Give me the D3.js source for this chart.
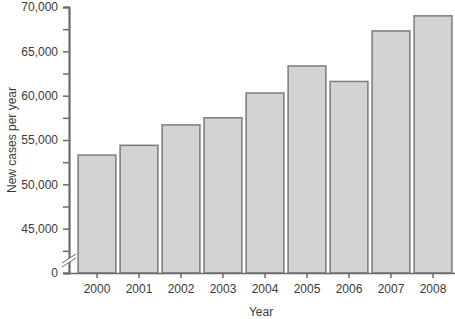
<!DOCTYPE html>
<html>
<head>
<meta charset="utf-8">
<script src="https://cdn.jsdelivr.net/npm/d3@7"></script>
<style>
  body { margin: 0; background: #fff; }
  text { font-family: "Liberation Sans", Arial, sans-serif; fill: #3a3a3a; }
</style>
</head>
<body>
<script>
var years = ["2000", "2001", "2002", "2003", "2004", "2005", "2006", "2007", "2008"];
var cases = [53300, 54400, 56700, 57500, 60300, 63350, 61600, 67300, 69000];
var yTicks = [45000, 50000, 55000, 60000, 65000, 70000];
var yMinor = [42500, 47500, 52500, 57500, 62500, 67500];

var width = 455, height = 319;
var base = 273; // baseline, shown as "0" (axis is broken)

var svg = d3.select("body").append("svg")
    .attr("width", width)
    .attr("height", height);

var x = d3.scaleBand()
    .domain(years)
    .range([76, 454])
    .paddingInner(0.1)
    .paddingOuter(0.05);

// 40,000 sits at the baseline, labelled 0 because of the axis break
var y = d3.scaleLinear()
    .domain([40000, 70000])
    .range([base, 7]);

var axisColor = "#6a6a6a";

// bars
svg.selectAll(".bar")
    .data(cases)
    .enter()
    .append("rect")
    .attr("class", "bar")
    .attr("x", function(d, i) { return x(years[i]); })
    .attr("y", function(d) { return y(d); })
    .attr("width", x.bandwidth())
    .attr("height", function(d) { return base - y(d); })
    .style("fill", "#d3d3d4")
    .style("stroke", "#7b7b7b")
    .style("stroke-width", 1.5);

// y axis
var yAxis = svg.append("g")
    .attr("transform", "translate(69,0)")
    .call(d3.axisLeft(y).tickValues(yTicks).tickSize(6).tickPadding(5)
        .tickFormat(d3.format(",")));

// minor ticks
svg.append("g")
    .attr("transform", "translate(69,0)")
    .call(d3.axisLeft(y).tickValues(yMinor).tickSize(6).tickFormat(""));

// zero tick at baseline
svg.append("g")
    .attr("transform", "translate(69,0)")
    .call(d3.axisLeft(y).tickValues([40000]).tickSize(6).tickPadding(5)
        .tickFormat(function() { return "0"; }));

// x axis
svg.append("g")
    .attr("transform", "translate(0," + base + ")")
    .call(d3.axisBottom(x).tickSize(5).tickPadding(6))
    .call(function(g) {
        g.select(".domain").attr("d", "M69,0.5H455");
    });

svg.selectAll(".domain, .tick line")
    .attr("stroke", axisColor)
    .attr("stroke-width", 1.5);
svg.selectAll(".tick text")
    .style("font-size", "12px")
    .attr("fill", "#3a3a3a");

// axis break marks
svg.append("path")
    .attr("d", "M62,263 L76,254 L76,258 L62,267 Z")
    .attr("fill", "#fff");
svg.append("path")
    .attr("d", "M62,263 L76,254 M62,267 L76,258")
    .attr("stroke", axisColor)
    .attr("stroke-width", 1);

// axis titles
svg.append("text")
    .attr("x", 261)
    .attr("y", 316)
    .attr("text-anchor", "middle")
    .style("font-size", "12px")
    .text("Year");

svg.append("text")
    .attr("transform", "translate(16,140) rotate(-90)")
    .attr("text-anchor", "middle")
    .style("font-size", "12px")
    .text("New cases per year");
</script>
</body>
</html>
